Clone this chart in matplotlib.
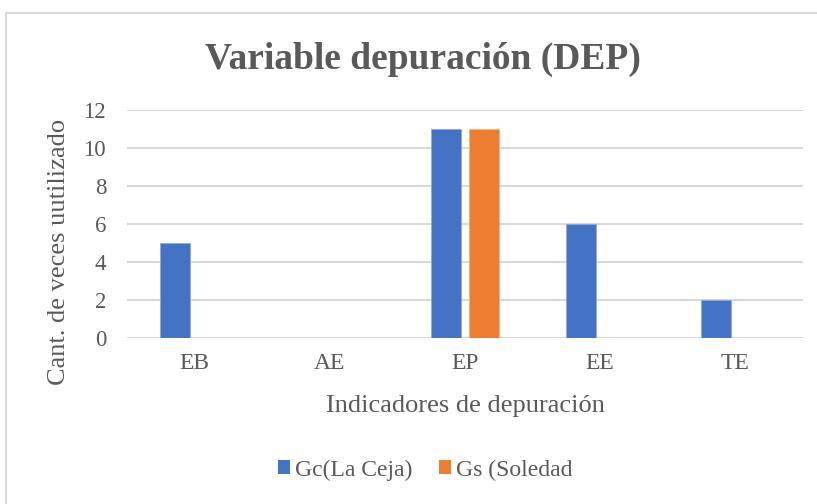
import numpy as np
import matplotlib
matplotlib.use("Agg")
import matplotlib.pyplot as plt
from matplotlib.patches import Rectangle, Patch

# ── Data ──────────────────────────────────────────────────────────────────────
categories = ["EB", "AE", "EP", "EE", "TE"]
gc_la_ceja = [5, 0, 11, 6, 2]
gs_soledad = [0, 0, 11, 0, 0]
series_names = ["Gc(La Ceja)", "Gs (Soledad"]
y_ticks = [0, 2, 4, 6, 8, 10, 12]

BLUE = "#4472C4"
ORANGE = "#ED7D31"
TEXT = "#595959"
GRID = "#D9D9D9"

plt.rcParams["font.family"] = ["Liberation Serif", "DejaVu Serif"]

W, H = 817, 504
fig = plt.figure(figsize=(W / 100, H / 100), dpi=100)

# chart border (cut off on right/bottom like the source)
fig.patches.append(Rectangle((6 / W, -0.1), 1.2, 1 - 13 / H + 0.1,
                             transform=fig.transFigure, fill=False,
                             edgecolor=GRID, linewidth=1.5))

ax = fig.add_axes([127 / W, 1 - 338 / H, 676 / W, 228 / H])

x = np.arange(len(categories))
bw = 0.222
off = 0.144
ax.bar(x - off, gc_la_ceja, width=bw, color=BLUE, edgecolor="#8FAADC", linewidth=0.6, zorder=3)
ax.bar(x + off, gs_soledad, width=bw, color=ORANGE, edgecolor="#F4B183", linewidth=0.6, zorder=3)

ax.set_xlim(-0.5, len(categories) - 0.5)
ax.set_ylim(0, 12)
ax.set_yticks(y_ticks)
ax.set_xticks(x)
ax.set_xticklabels(categories)
ax.tick_params(axis="both", length=0, labelcolor=TEXT)
ax.tick_params(axis="x", pad=11, labelsize=17)
ax.tick_params(axis="y", pad=15, labelsize=16.5)
ax.grid(axis="y", color=GRID, linewidth=1.5, zorder=0)
ax.set_axisbelow(True)
for s in ax.spines.values():
    s.set_visible(False)

fig.text(423 / W, 1 - 59 / H, "Variable depuración (DEP)", ha="center", va="center",
         fontsize=27, fontweight="bold", color=TEXT)
fig.text(59 / W, 1 - 252 / H, "Cant. de veces uutilizado", ha="center", va="center",
         rotation=90, fontsize=19, color=TEXT)
fig.text(465 / W, 1 - 406 / H, "Indicadores de depuración", ha="center", va="center",
         fontsize=19, color=TEXT)

handles = [Patch(facecolor=BLUE), Patch(facecolor=ORANGE)]
leg = fig.legend(handles, series_names, loc="center", bbox_to_anchor=(425 / W, 1 - 470 / H),
                 ncol=2, frameon=False, fontsize=17, handlelength=0.51, handleheight=0.51,
                 handletextpad=0.21, columnspacing=1.14)
for t in leg.get_texts():
    t.set_color(TEXT)

fig.savefig("out.png", dpi=100)
